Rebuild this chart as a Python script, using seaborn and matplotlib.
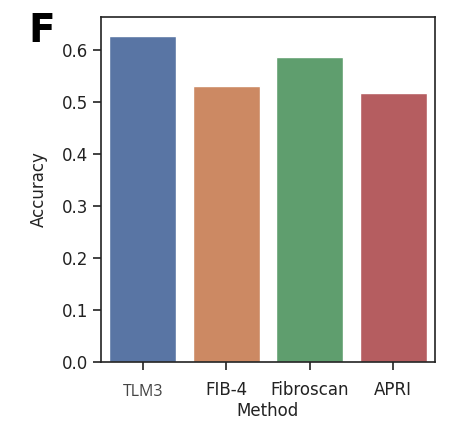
import matplotlib
matplotlib.use("Agg")
import matplotlib.pyplot as plt
import seaborn as sns
import pandas as pd

methods = ["TLM3", "FIB-4", "Fibroscan", "APRI"]
accuracy = [0.626, 0.531, 0.587, 0.517]

sns.set_theme(style="ticks", palette="deep")
plt.rcParams['font.family'] = ['DejaVu Sans']

df = pd.DataFrame({"Method": methods, "Accuracy": accuracy})

fig = plt.figure(figsize=(4.49, 4.21), dpi=100)
ax = fig.add_axes([101/449, 1 - 362/421, 334/449, 345/421])
sns.barplot(data=df, x="Method", y="Accuracy", hue="Method",
            palette="deep", legend=False, ax=ax)
ax.set_ylim(0, 0.663)
ax.set_yticks([0.0, 0.1, 0.2, 0.3, 0.4, 0.5, 0.6])
ax.tick_params(axis='both', labelsize=12, colors='#222222', length=6, width=1.2)
for s in ax.spines.values():
    s.set_linewidth(1.2)
    s.set_color('#222222')
ax.set_xlabel("Method", fontsize=12, color='#222222', labelpad=1)
ax.set_ylabel("Accuracy", fontsize=12, color='#222222', labelpad=10)
ax.tick_params(axis='x', pad=8)
labels = ax.get_xticklabels()
labels[0].set_fontfamily('Open Sans')
labels[0].set_fontsize(11.5)
labels[0].set_color('#444444')
labels[0].set_y(-0.008)

fig.text(28/449, 1 - 42/421, "F", fontsize=28, fontweight='bold', color='black')

fig.savefig("out.png", dpi=100)
